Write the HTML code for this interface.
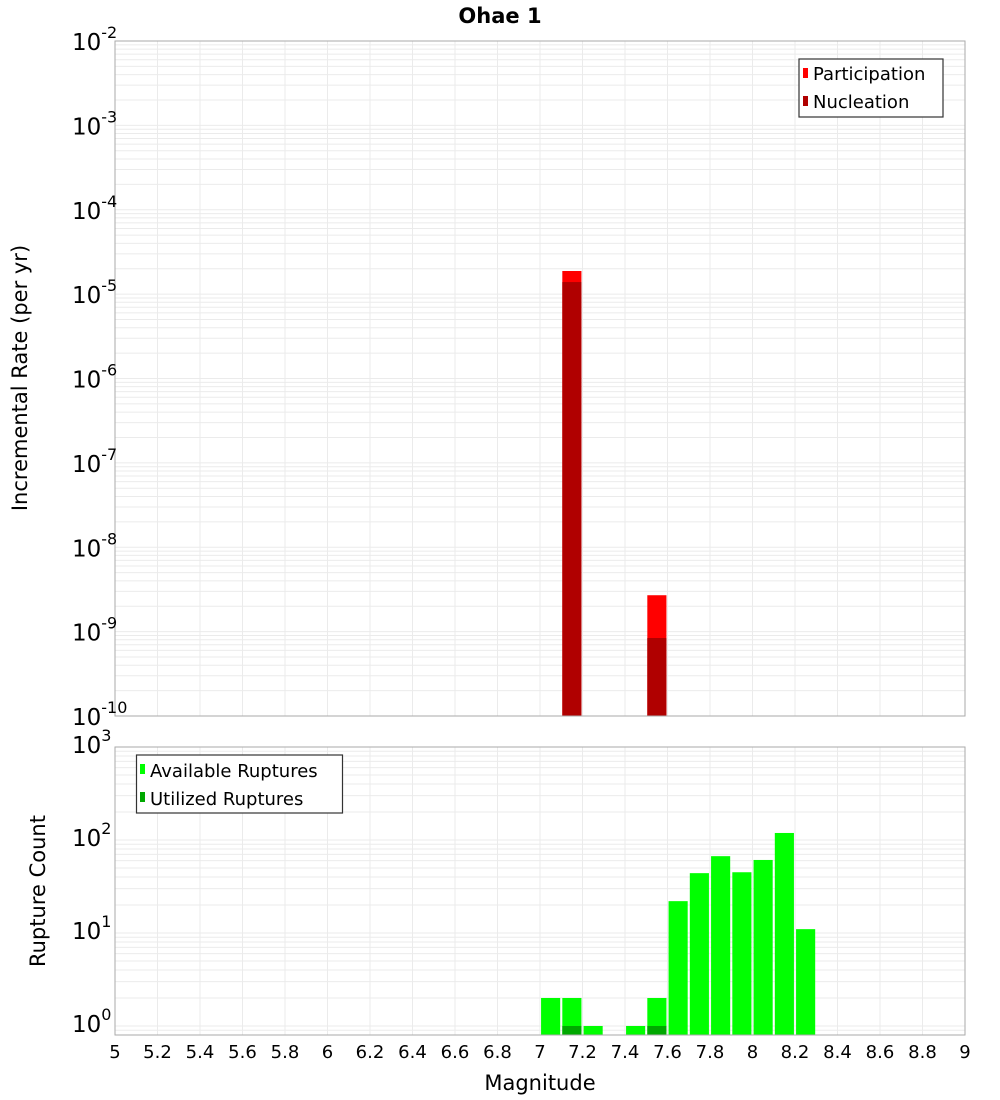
<!DOCTYPE html>
<html><head><meta charset="utf-8"><style>
html,body{margin:0;padding:0;background:#fff;}
svg{display:block;font-family:"DejaVu Sans","Liberation Sans",sans-serif;}
</style></head><body>
<svg id="chart" width="1000" height="1100" xmlns="http://www.w3.org/2000/svg">
<text x="500" y="23" text-anchor="middle" font-size="21" font-weight="bold">Ohae 1</text>
<text transform="translate(27,378) rotate(-90)" text-anchor="middle" font-size="21">Incremental Rate (per yr)</text>
<text transform="translate(45,891) rotate(-90)" text-anchor="middle" font-size="21">Rupture Count</text>
<text x="540" y="1090" text-anchor="middle" font-size="21">Magnitude</text>
<g id="topPlot"></g><g id="botPlot"></g><g id="xTickGroup"></g>
<g>
<rect x="799" y="59" width="144" height="58" fill="#fff" stroke="#333" stroke-width="1.2"/>
<rect x="803" y="68" width="5" height="10" fill="#ff0000"/>
<text x="813" y="80" font-size="18">Participation</text>
<rect x="803" y="96" width="5" height="10" fill="#b00000"/>
<text x="813" y="108" font-size="18">Nucleation</text>
</g>
<g>
<rect x="136.5" y="755" width="206" height="58" fill="#fff" stroke="#333" stroke-width="1.2"/>
<rect x="140" y="764" width="5" height="10" fill="#00ff00"/>
<text x="150" y="777" font-size="18">Available Ruptures</text>
<rect x="140" y="792" width="5" height="10" fill="#00a800"/>
<text x="150" y="805" font-size="18">Utilized Ruptures</text>
</g>
</svg>
<script>
const partMags=[7.15,7.55];
const partVals=[1.88e-5,2.7e-9];
const nuclMags=[7.15,7.55];
const nuclVals=[1.39e-5,8.4e-10];
const availMags=[7.05,7.15,7.25,7.45,7.55,7.65,7.75,7.85,7.95,8.05,8.15,8.25];
const availVals=[2,2,1,1,2,22,44,67,45,61,119,11];
const usedMags=[7.15,7.55];
const usedVals=[1,1];
const xTicks=[5,5.2,5.4,5.6,5.8,6,6.2,6.4,6.6,6.8,7,7.2,7.4,7.6,7.8,8,8.2,8.4,8.6,8.8,9];
const topExps=[-10,-9,-8,-7,-6,-5,-4,-3,-2];
const botExps=[0,1,2,3];

const NS="http://www.w3.org/2000/svg";
const X0=115,X1=965,XMIN=5,XMAX=9;
const xs=m=>X0+(m-XMIN)/(XMAX-XMIN)*(X1-X0);
const T0=41,T1=716,TMIN=-10,TMAX=-2;
const yt=v=>T1-(Math.log10(v)-TMIN)/(TMAX-TMIN)*(T1-T0);
const B0=747,B1=1035,BMIN=Math.log10(0.8),BMAX=3;
const yb=v=>B1-(Math.log10(v)-BMIN)/(BMAX-BMIN)*(B1-B0);
function mk(p,t,a){const e=document.createElementNS(NS,t);for(const k in a)e.setAttribute(k,a[k]);p.appendChild(e);return e;}
const gTop=document.getElementById('topPlot'),gBot=document.getElementById('botPlot'),gX=document.getElementById('xTickGroup');

function grid(g,y0,y1,ys,lo,hi){
  for(let e=Math.floor(lo);e<hi;e++)for(let k=1;k<10;k++){const v=k*Math.pow(10,e);const y=ys(v);if(y<y0||y>y1)continue;
    const l=mk(g,'line',{x1:X0,x2:X1,y1:y,y2:y,stroke:'#ebebeb','stroke-width':1});
    
    }
  xTicks.forEach(t=>{const l=mk(g,'line',{x1:xs(t),x2:xs(t),y1:y0,y2:y1,stroke:'#ebebeb','stroke-width':1});
    
    });
}
grid(gTop,T0,T1,yt,TMIN,TMAX);
grid(gBot,B0,B1,yb,-1,BMAX);
const bw=0.09;
function bars(g,mags,vals,ys,base,fill,name){
  mags.forEach((m,i)=>{const y=ys(vals[i]);const r=mk(g,'rect',{x:xs(m-bw/2),y:y,width:xs(m+bw/2)-xs(m-bw/2),height:base-y,fill:fill});
    
    });
}
bars(gTop,partMags,partVals,yt,T1,'#ff0000','participation-bar');
bars(gTop,nuclMags,nuclVals,yt,T1,'#b00000','nucleation-bar');
bars(gBot,availMags,availVals,yb,B1,'#00ff00','available-bar');
bars(gBot,usedMags,usedVals,yb,B1,'#00a800','utilized-bar');
mk(gTop,'rect',{x:X0,y:T0,width:X1-X0,height:T1-T0,fill:'none',stroke:'#aaa','stroke-width':1});
mk(gBot,'rect',{x:X0,y:B0,width:X1-X0,height:B1-B0,fill:'none',stroke:'#aaa','stroke-width':1});
function ylab(g,exps,ys,off){exps.forEach(e=>{const y=ys(Math.pow(10,e))+off;
  const t=mk(g,'text',{x:72,y:y,'font-size':23});
  
  
  t.textContent='10';
  const s=mk(t,'tspan',{dy:-12,'font-size':16});s.textContent=String(e);});}
ylab(gTop,topExps,yt,9);
ylab(gBot,botExps,yb,6);
xTicks.forEach(t=>{const e=mk(gX,'text',{x:xs(t),y:1058,'text-anchor':'middle','font-size':18});
  
  
  e.textContent=String(t);});
</script>
</body></html>
